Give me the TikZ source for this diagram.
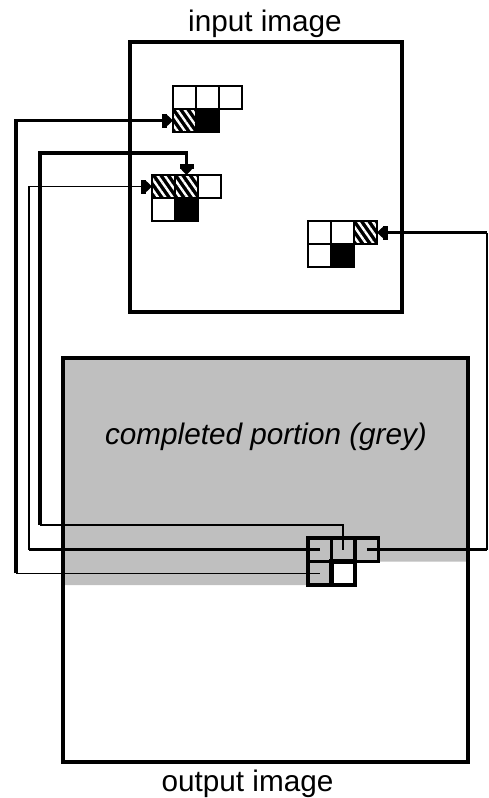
\documentclass[tikz,border=0pt]{standalone}
\usepackage{fontspec}
\setmainfont{Liberation Sans}
\usetikzlibrary{arrows.meta,patterns.meta}
\definecolor{greyfill}{RGB}{191,191,191}
\tikzset{
  frame/.style={draw, line width=4pt},
  cell/.style={draw, line width=2.2pt, minimum size=23pt, inner sep=0pt, outer sep=0pt},
  blackcell/.style={cell, fill=black},
  hatchcell/.style={cell, fill=black,
     postaction={pattern={Lines[angle=-55,distance=6pt,line width=2.4pt]}, pattern color=white},
     postaction={draw, line width=2.2pt}},
  outcell/.style={cell, line width=3.2pt, minimum size=23.5pt},
  curcell/.style={outcell, fill=white, line width=4.8pt},
  thickline/.style={line width=3.2pt},
  midline/.style={line width=2.2pt},
  thinline/.style={line width=1.5pt},
  arr/.style={-{Square[length=5pt,width=14pt,sep=0pt]Triangle[length=6pt,width=11pt]}},
  lbl/.style={font=\fontsize{29.7pt}{34pt}\selectfont, inner sep=0pt},
}
\begin{document}
\begin{tikzpicture}[x=1pt,y=-1pt]
\useasboundingbox (0,0) rectangle (489,798);
% completed (grey) portion of the output image
\fill[greyfill] (63,358) -- (468,358) -- (468,561.5) -- (331.5,561.5) -- (331.5,585) -- (63,585) -- cycle;
% frames
\draw[frame] (130,42) rectangle (402,312);
\draw[frame] (63,358) rectangle (468,762);
% labels
\node[lbl, anchor=base] (tin) at (265,31) {input image};
\node[lbl, anchor=base] (tout) at (247.5,791) {output image};
\node[lbl, anchor=base, font=\fontsize{29.7pt}{34pt}\selectfont\itshape] (tcomp) at (266,444) {completed portion (grey)};
% neighbourhood 1
\node[cell] (g1a) at (184.5,97.5) {};
\node[cell] (g1b) at (207.5,97.5) {};
\node[cell] (g1c) at (230.5,97.5) {};
\node[hatchcell] (g1d) at (184.5,120.5) {};
\node[blackcell] (g1e) at (207.5,120.5) {};
% neighbourhood 2
\node[hatchcell] (g2a) at (163.5,186.5) {};
\node[hatchcell] (g2b) at (186.5,186.5) {};
\node[cell] (g2c) at (209.5,186.5) {};
\node[cell] (g2d) at (163.5,209.5) {};
\node[blackcell] (g2e) at (186.5,209.5) {};
% neighbourhood 3
\node[cell] (g3a) at (319.5,232.5) {};
\node[cell] (g3b) at (342.5,232.5) {};
\node[hatchcell] (g3c) at (365.5,232.5) {};
\node[cell] (g3d) at (319.5,255.5) {};
\node[blackcell] (g3e) at (342.5,255.5) {};
% output neighbourhood
\node[outcell] (oA) at (319.75,549.75) {};
\node[outcell] (oB) at (343.25,549.75) {};
\node[outcell] (oC) at (366.75,549.75) {};
\node[outcell] (oD) at (319.75,573.25) {};
\node[curcell] (oE) at (343.25,573.25) {};
% routing coordinates
\coordinate (xA) at (16,0);
\coordinate (xB) at (40,0);
\coordinate (xC) at (29,0);
\coordinate (xD) at (487,0);
\coordinate (yB) at (0,525);
\coordinate (yB2) at (0,153);
% connector A
\draw[thinline] (oD.center) -- (oD.center -| xA);
\draw[thickline, arr] (oD.center -| xA) |- (g1d.west);
% connector B
\draw[midline] (oB.center) -- (oB.center |- yB) -- (xB |- yB);
\draw[thickline, arr] (xB |- yB) -- (xB |- yB2) -| (g2b.north);
% connector C
\draw[thickline] (oA.center) -- (oA.center -| xC);
\draw[thinline, arr] (oA.center -| xC) |- (g2a.west);
% connector D
\draw[thickline] (oC.center) -- (oC.center -| xD);
\draw[thinline] (oC.center -| xD) -- (xD |- g3c.east);
\draw[thickline, arr] (xD |- g3c.east) -- (g3c.east);
\end{tikzpicture}
\end{document}
